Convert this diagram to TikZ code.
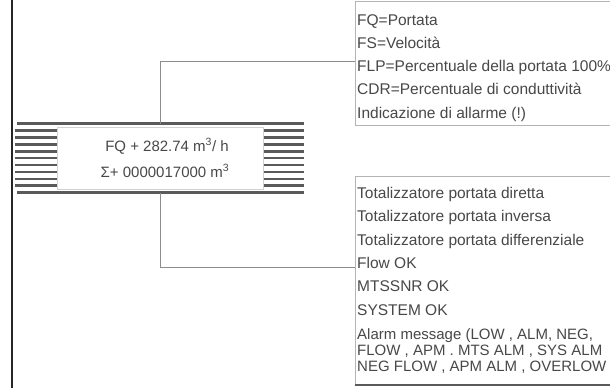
\documentclass[tikz,border=0pt]{standalone}
\usepackage{fontspec}
\setmainfont{Liberation Sans}
\definecolor{textgray}{HTML}{484848}
\definecolor{hatch}{HTML}{5A5A5A}
\definecolor{boxgray}{HTML}{B4B4B4}
\definecolor{linegray}{HTML}{8C8C8C}
\begin{document}
\begin{tikzpicture}[x=1pt,y=-1pt,
  txt/.style={anchor=base west, inner sep=0pt, text=textgray, font=\fontsize{15.5}{18}\selectfont},
  txtsm/.style={txt, font=\fontsize{15}{18}\selectfont},
  disptxt/.style={anchor=base, inner sep=0pt, text=textgray, font=\fontsize{15}{18}\selectfont},
  callout/.style={draw=boxgray, line width=1.2pt, fill=white, rectangle, inner sep=0pt, anchor=north west},
  hatchline/.style={draw=hatch, line width=2.7pt},
  conn/.style={draw=linegray, line width=0.9pt}]
\useasboundingbox (0,0) rectangle (610,388);
\clip (0,0) rectangle (610,388);
% left frame line
\draw[line width=1.3pt, black!85] (12,0) -- (12,388);
% display
\node[inner sep=0pt, minimum width=290, minimum height=69.2, anchor=north west] (disp) at (14,123.5) {};
\draw[hatchline] (17,123.5) -- (304,123.5);
\draw[hatchline] (17,192.7) -- (304,192.7);
\foreach \i in {1,...,9} {
  \draw[hatchline] (14.5,{123.5+6.92*\i}) -- (57,{123.5+6.92*\i});
  \draw[hatchline] (263,{123.5+6.92*\i}) -- (303.5,{123.5+6.92*\i});
}
\node[draw=boxgray!60, line width=0.6pt, fill=white, inner sep=0pt, minimum width=206, minimum height=62, anchor=north west] (screen) at (57,127) {};
\node[disptxt] (l1) at (167,151) {FQ + 282.74 m\textsuperscript{3}/ h};
\node[disptxt] (l2) at (165,177) {Σ+ 0000017000 m\textsuperscript{3}};
% top callout
\node[callout, minimum width=300, minimum height=124] (top) at (355,1) {};
\node[txt] (t1) at (357,25) {FQ=Portata};
\node[txt] (t2) at (357,48.2) {FS=Velocità};
\node[txt] (t3) at (357,71.5) {FLP=Percentuale della portata 100\%};
\node[txt] (t4) at (357,94.8) {CDR=Percentuale di conduttività};
\node[txt] (t5) at (357,118) {Indicazione di allarme (!)};
% bottom callout
\node[callout, minimum width=300, minimum height=208] (bot) at (355,176) {};
\draw[line width=1.8pt, hatch] (bot.south west) -- (bot.south east);
\node[txt] (b1) at (357,198.5) {Totalizzatore portata diretta};
\node[txt] (b2) at (357,221.8) {Totalizzatore portata inversa};
\node[txt] (b3) at (357,245.1) {Totalizzatore portata differenziale};
\node[txt] (b4) at (357,268.4) {Flow OK};
\node[txt] (b5) at (357,291.7) {MTSSNR OK};
\node[txt] (b6) at (357,315) {SYSTEM OK};
\node[txtsm] (b7) at (357,339) {Alarm message (LOW , ALM, NEG,};
\node[txtsm] (b8) at (357,355) {FLOW , APM . MTS ALM , SYS ALM};
\node[txtsm] (b9) at (357,371) {NEG FLOW , APM ALM , OVERLOW};
% connectors
\coordinate (ct) at (160.5,61);
\coordinate (cb) at (160.5,267);
\draw[conn] (disp.north -| ct) -- (ct) -- (ct -| top.west);
\draw[conn] (disp.south -| cb) -- (cb) -- (cb -| bot.west);
\end{tikzpicture}
\end{document}
